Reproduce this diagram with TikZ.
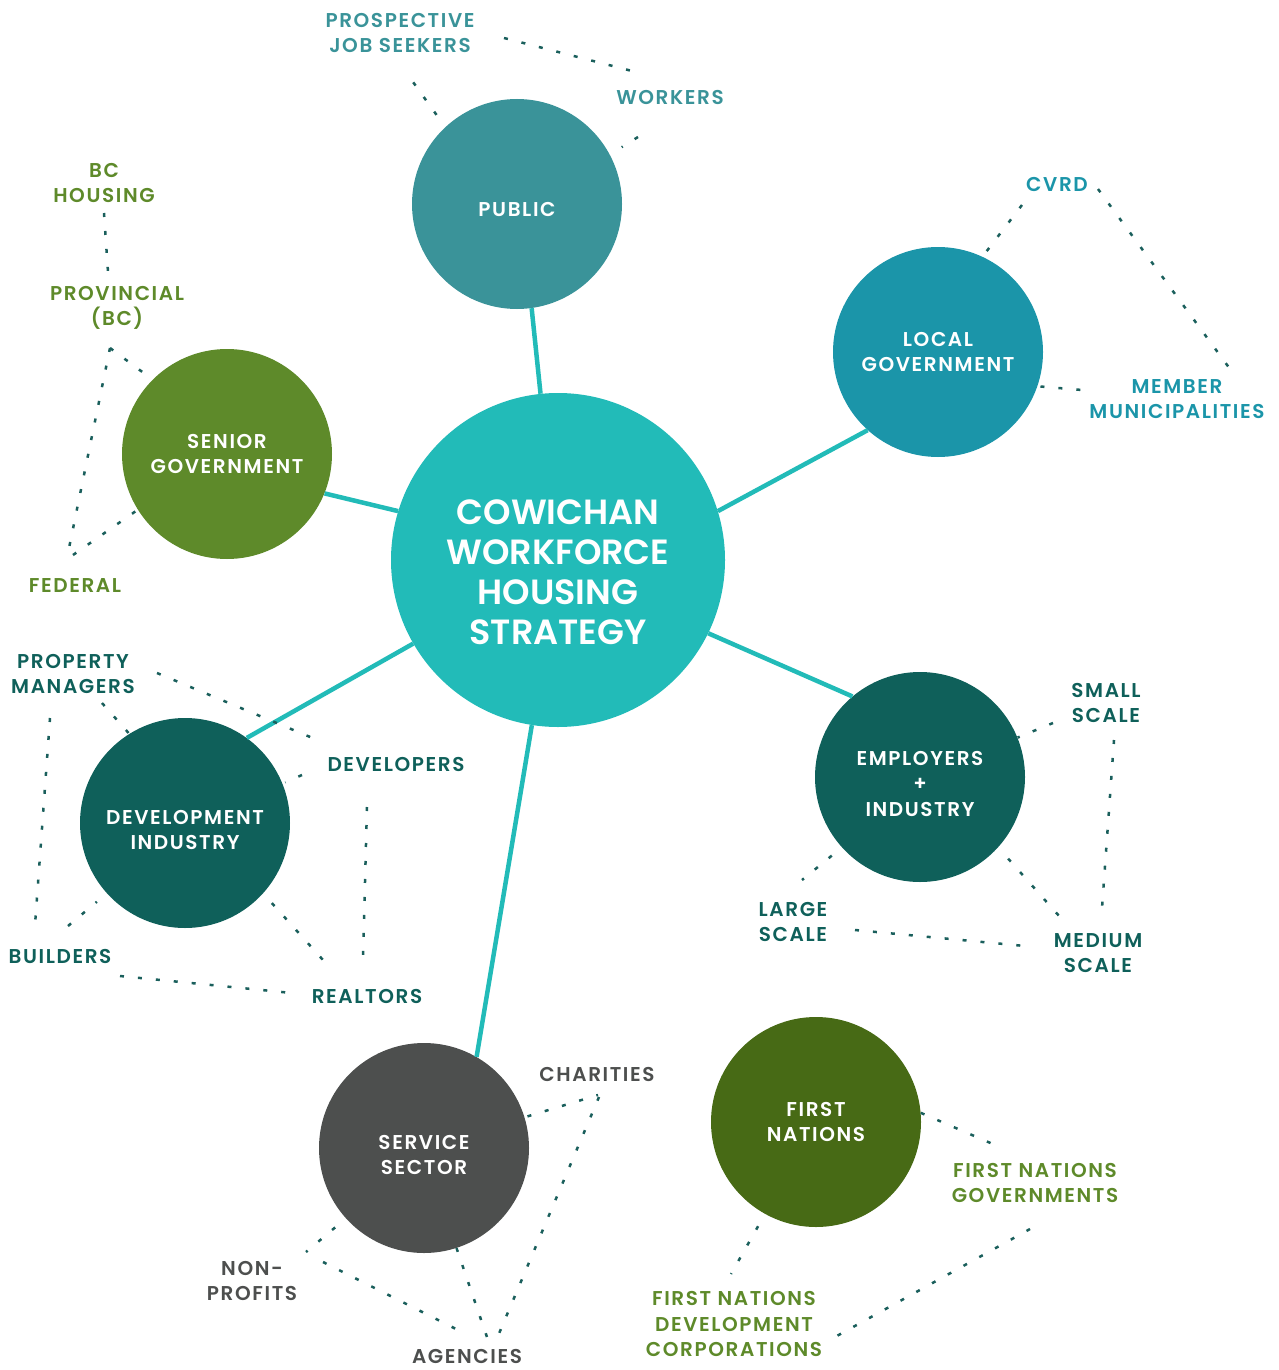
\documentclass[tikz,border=0pt]{standalone}
\usepackage{fontspec}
\setmainfont{Poppins}[BoldFont={* SemiBold}]
\usetikzlibrary{calc}

\definecolor{hubteal}{HTML}{22BBB8}
\definecolor{publicteal}{HTML}{3A9399}
\definecolor{localblue}{HTML}{1B95A9}
\definecolor{seniorgreen}{HTML}{5E8A2A}
\definecolor{devgreen}{HTML}{0F605A}
\definecolor{servicegrey}{HTML}{4D4F4E}
\definecolor{fngreen}{HTML}{476A15}
\definecolor{dotteal}{HTML}{1A5F5C}

\newcommand{\tagfont}{\bfseries\fontsize{20}{25.5}\selectfont\addfontfeatures{LetterSpace=8}}

\begin{document}
\begin{tikzpicture}[x=1pt, y=-1pt,
    hub/.style={circle, fill=hubteal, minimum size=334pt, inner sep=0pt},
    hubtext/.style={text=white, align=center, inner sep=0pt, font=\bfseries\fontsize{35}{40}\selectfont},
    group/.style={circle, fill=#1, minimum size=210pt, inner sep=0pt, text=white, align=center, font=\tagfont},
    tag/.style={text=#1, align=center, inner sep=0pt, font=\tagfont},
    spoke/.style={hubteal, line width=4.5pt},
    dotline/.style={dotteal, line width=2.5pt, dash pattern=on 4pt off 14pt}]

    \useasboundingbox (0,0) rectangle (1278,1370);

    % Draw the hub and the stakeholder circles
    \node[hub] (hub) at (558,560) {};
    \node[hubtext] (hubtitle) at (558,572) {COWICHAN\\WORKFORCE\\HOUSING\\STRATEGY};
    \node[group=publicteal, text height=26pt] (public) at (517,204) {PUBLIC};
    \node[group=localblue] (local) at (938,352) {LOCAL\\GOVERNMENT};
    \node[group=seniorgreen] (senior) at (227,454) {SENIOR\\GOVERNMENT};
    \node[group=devgreen, text height=54pt] (devind) at (185,823) {DEVELOPMENT\\INDUSTRY};
    \node[group=devgreen, text height=79pt] (employers) at (920,777) {EMPLOYERS\\+\\INDUSTRY};
    \node[group=servicegrey, text height=54pt] (service) at (424,1148) {SERVICE\\SECTOR};
    \node[group=fngreen] (firstnations) at (816,1122) {FIRST\\NATIONS};

    % Draw the spokes from the hub
    \draw[spoke] (hub.96) -- (public.278);
    \draw[spoke] (hub.17) -- (local.228);
    \draw[spoke] (hub.334) -- (employers.130);
    \draw[spoke] (hub.261) -- (service.60);
    \draw[spoke] (hub.210) -- (devind.54);
    \draw[spoke] (hub.163) -- (senior.338);

    % Public
    \node[tag=publicteal] (jobseek) at (400,33) {PROSPECTIVE\\JOB SEEKERS};
    \node[tag=publicteal] (workers) at (670,97) {WORKERS};
    \draw[dotline, shorten <=15pt] (public.133) -- ($(jobseek)+(13,49)$);
    \draw[dotline] ($(jobseek)+(104,5)$) -- ($(workers)+(-38,-26)$);
    \draw[dotline, shorten >=14pt] ($(workers)+(-32,40)$) -- (public.28);

    % Senior government
    \node[tag=seniorgreen] (bchousing) at (104,183) {BC\\HOUSING};
    \node[tag=seniorgreen] (provincial) at (117,308) {PROVINCIAL\\(BC)};
    \node[tag=seniorgreen] (federal) at (75,586) {FEDERAL};
    \draw[dotline] ($(bchousing)+(0,30)$) -- ($(provincial)+(-9,-36)$);
    \draw[dotline, shorten >=13pt] ($(provincial)+(-7,40)$) -- (senior.135);
    \draw[dotline] ($(provincial)+(-7,40)$) -- ($(federal)+(-7,-33)$);
    \draw[dotline] ($(federal)+(-2,-31)$) -- (senior.212);

    % Local government
    \node[tag=localblue] (cvrd) at (1057,184) {CVRD};
    \node[tag=localblue] (member) at (1177,399) {MEMBER\\MUNICIPALITIES};
    \draw[dotline, shorten <=7pt] (local.65) -- ($(cvrd)+(-35,21)$);
    \draw[dotline] ($(cvrd)+(41,5)$) -- ($(member)+(53,-30)$);
    \draw[dotline, shorten <=3pt] (local.341) -- ($(member)+(-95,-9)$);

    % Development industry
    \node[tag=devgreen] (propmgr) at (73,674) {PROPERTY\\MANAGERS};
    \node[tag=devgreen] (developers) at (396,764) {DEVELOPERS};
    \node[tag=devgreen] (builders) at (60,956) {BUILDERS};
    \node[tag=devgreen] (realtors) at (367,996) {REALTORS};
    \draw[dotline] ($(propmgr)+(84,-1)$) -- ($(developers)+(-81,-25)$);
    \draw[dotline] ($(propmgr)+(29,29)$) -- (devind.122);
    \draw[dotline, shorten >=3pt] ($(developers)+(-94,11)$) -- (devind.22);
    \draw[dotline] ($(propmgr)+(-23,44)$) -- ($(builders)+(-25,-31)$);
    \draw[dotline, shorten >=13pt] ($(builders)+(8,-30)$) -- (devind.222);
    \draw[dotline] ($(builders)+(60,20)$) -- ($(realtors)+(-75,-3)$);
    \draw[dotline, shorten <=13pt] (devind.318) -- ($(realtors)+(-44,-36)$);
    \draw[dotline] ($(developers)+(-29,43)$) -- ($(realtors)+(-4,-39)$);

    % Employers + industry
    \node[tag=devgreen] (small) at (1106,703) {SMALL\\SCALE};
    \node[tag=devgreen] (large) at (793,922) {LARGE\\SCALE};
    \node[tag=devgreen] (medium) at (1098,953) {MEDIUM\\SCALE};
    \draw[dotline] ($(small)+(-53,20)$) -- (employers.22);
    \draw[dotline] ($(small)+(8,37)$) -- ($(medium)+(4,-45)$);
    \draw[dotline, shorten <=13pt] (employers.222) -- ($(large)+(9,-42)$);
    \draw[dotline] ($(large)+(62,8)$) -- ($(medium)+(-73,-7)$);
    \draw[dotline, shorten <=15pt] (employers.318) -- ($(medium)+(-38,-36)$);

    % Service sector
    \node[tag=servicegrey] (charities) at (597,1074) {CHARITIES};
    \node[tag=servicegrey] (nonprofits) at (252,1281) {NON-\\PROFITS};
    \node[tag=servicegrey] (agencies) at (467,1356) {AGENCIES};
    \draw[dotline, shorten <=3pt] (service.17) -- ($(charities)+(1,21)$);
    \draw[dotline] ($(charities)+(2,23)$) -- ($(agencies)+(28,-13)$);
    \draw[dotline] (service.288) -- ($(agencies)+(21,-16)$);
    \draw[dotline, shorten <=14pt] (service.222) -- ($(nonprofits)+(54,-29)$);
    \draw[dotline] ($(nonprofits)+(71,-19)$) -- ($(agencies)+(-9,-26)$);

    % First nations
    \node[tag=seniorgreen] (fngov) at (1035,1183) {FIRST NATIONS\\GOVERNMENTS};
    \node[tag=seniorgreen] (fndev) at (734,1324) {FIRST NATIONS\\DEVELOPMENT\\CORPORATIONS};
    \draw[dotline] (firstnations.5) -- ($(fngov)+(-33,-35)$);
    \draw[dotline, shorten <=14pt] (firstnations.241) -- ($(fndev)+(-3,-50)$);
    \draw[dotline] ($(fngov)+(-5,46)$) -- ($(fndev)+(101,13)$);
\end{tikzpicture}
\end{document}
